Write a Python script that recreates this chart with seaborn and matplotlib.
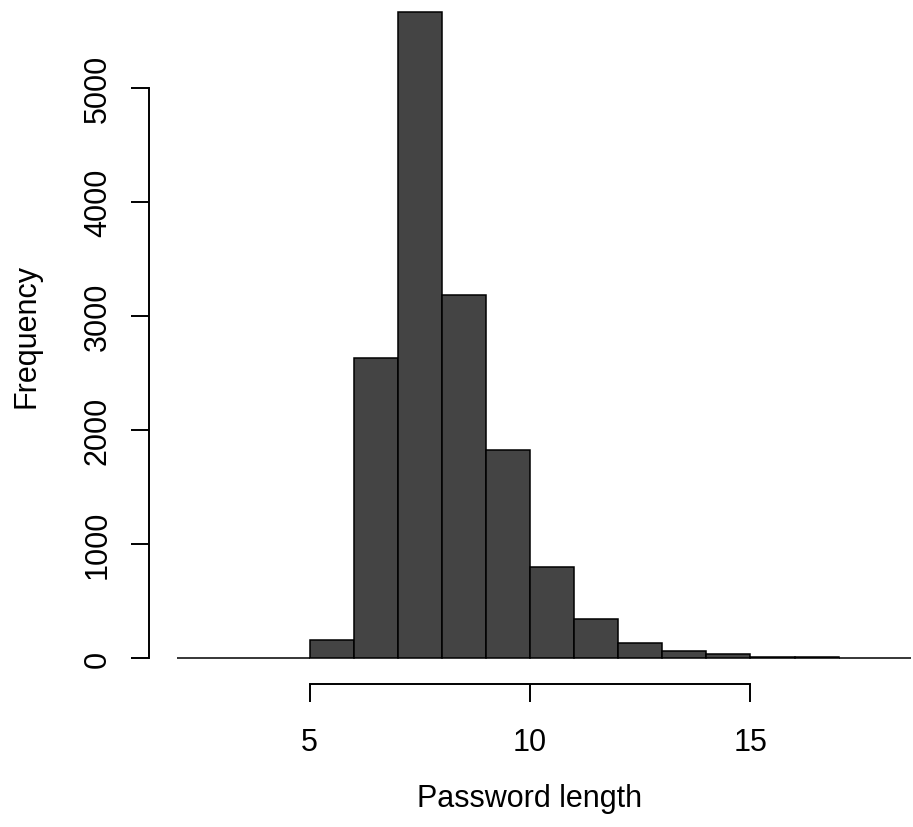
import numpy as np
import pandas as pd
import matplotlib
matplotlib.use("Agg")
import matplotlib.pyplot as plt
import seaborn as sns

# Histogram of password lengths (unit-width bins)
bin_edges = [2, 3, 4, 5, 6, 7, 8, 9, 10, 11, 12, 13, 14, 15, 16, 17, 18, 19]
counts = [0, 0, 0, 158, 2628, 5664, 3180, 1825, 801, 342, 131, 61, 35, 12, 6, 3, 2]
x_ticks = [5, 10, 15]
y_ticks = [0, 1000, 2000, 3000, 4000, 5000]

df = pd.DataFrame({
    "length": [lo + 0.5 for lo in bin_edges[:-1]],
    "count": counts,
})

sns.set_style("white")
plt.rcParams["font.family"] = ["Liberation Sans", "DejaVu Sans"]

W, H = 913, 828
fig = plt.figure(figsize=(W / 100, H / 100), dpi=100)

# R-style axis limits: data range padded by 4% on each side
x_lo, x_hi = 2, 18
x_pad = 0.04 * (x_hi - x_lo)
y_max = max(counts)
y_pad = 0.04 * y_max
xlim = (x_lo - x_pad, x_hi + x_pad)
ylim = (-y_pad, y_max + y_pad)

left_px, right_px, bottom_px = 149, 911, 685
px_per_unit = 0.1141
height_px = (ylim[1] - ylim[0]) * px_per_unit
ax = fig.add_axes([left_px / W, (H - bottom_px) / H,
                   (right_px - left_px) / W, height_px / H])

sns.histplot(data=df, x="length", weights="count", bins=bin_edges,
             color="#444444", edgecolor="black", linewidth=1.1,
             alpha=1, ax=ax)

ax.set_xlim(*xlim)
ax.set_ylim(*ylim)

for side in ("top", "right"):
    ax.spines[side].set_visible(False)
ax.spines["left"].set_bounds(0, 5000)
ax.spines["bottom"].set_bounds(5, 15)
for side in ("left", "bottom"):
    ax.spines[side].set_linewidth(1.4)
    ax.spines[side].set_color("black")

ax.set_xticks(x_ticks)
ax.set_yticks(y_ticks)
ax.set_xticklabels([str(t) for t in x_ticks])
ax.set_yticklabels([str(t) for t in y_ticks], rotation=90, va="center")
ax.tick_params(axis="both", direction="out", length=13, width=1.4,
               color="black", labelsize=22, labelcolor="black",
               bottom=True, left=True)
ax.tick_params(axis="x", pad=18)
ax.tick_params(axis="y", pad=13)

ax.set_xlabel("Password length", fontsize=22, labelpad=19, color="black")
ax.set_ylabel("Frequency", fontsize=22, labelpad=30, color="black")
ax.grid(False)

fig.savefig("out.png", dpi=100, facecolor="white")
